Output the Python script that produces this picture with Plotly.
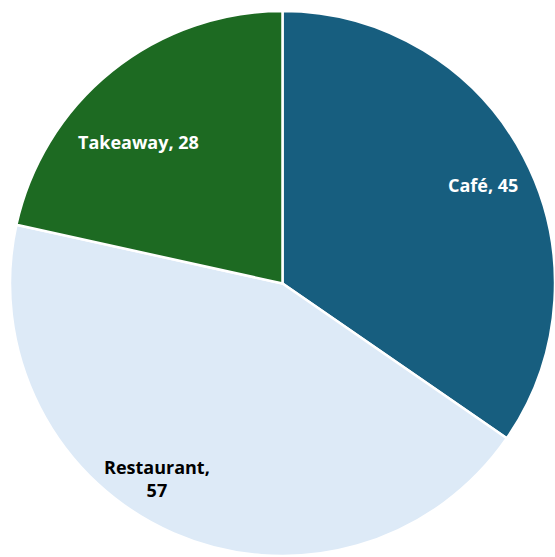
import math
import plotly.graph_objects as go

# Orders by venue type
categories = ["Café", "Restaurant", "Takeaway"]
values = [45, 57, 28]
label_text = ["Café, 45", "Restaurant,<br>57", "Takeaway, 28"]
slice_colors = ["#175E7F", "#DDEAF7", "#1D6A22"]
text_colors = ["#FFFFFF", "#000000", "#FFFFFF"]

# Label placement per slice: fraction of the radius and angular nudge (deg)
label_radius = [0.82, 0.85, 0.74]
label_nudge = [1.5, 9.2, -6.6]

W, H = 555, 557
PAD = 10  # left/top inset of the pie domain, px
dom_x = [PAD / W, 1]
dom_y = [0, 1 - PAD / H]

fig = go.Figure(
    go.Pie(
        labels=categories,
        values=values,
        textinfo="none",
        sort=False,
        direction="clockwise",
        rotation=0,
        marker=dict(colors=slice_colors, line=dict(color="#FFFFFF", width=2.5)),
        hoverinfo="label+value",
        domain=dict(x=dom_x, y=dom_y),
        showlegend=False,
    )
)

# Pie geometry in pixels (plotly fits the circle to the smaller domain side)
dw = (dom_x[1] - dom_x[0]) * W
dh = (dom_y[1] - dom_y[0]) * H
r_px = min(dw, dh) / 2
cx_px = dom_x[0] * W + dw / 2
cy_px = (1 - dom_y[1]) * H + dh / 2

total = sum(values)
start = 0.0
for val, txt, col, frac, nudge in zip(values, label_text, text_colors, label_radius, label_nudge):
    span = 360.0 * val / total
    ang = math.radians(start + span / 2 + nudge)
    x_px = cx_px + frac * r_px * math.sin(ang)
    y_px = cy_px - frac * r_px * math.cos(ang)
    fig.add_annotation(
        x=x_px / W,
        y=1 - y_px / H,
        xref="paper",
        yref="paper",
        text=txt,
        showarrow=False,
        xanchor="center",
        yanchor="middle",
        align="center",
        font=dict(family="Open Sans", size=18, color=col, weight="bold"),
    )
    start += span

fig.update_layout(
    width=W,
    height=H,
    autosize=False,
    margin=dict(l=0, r=0, t=0, b=0),
    paper_bgcolor="#FFFFFF",
    plot_bgcolor="#FFFFFF",
)

fig.write_html("out.html")
